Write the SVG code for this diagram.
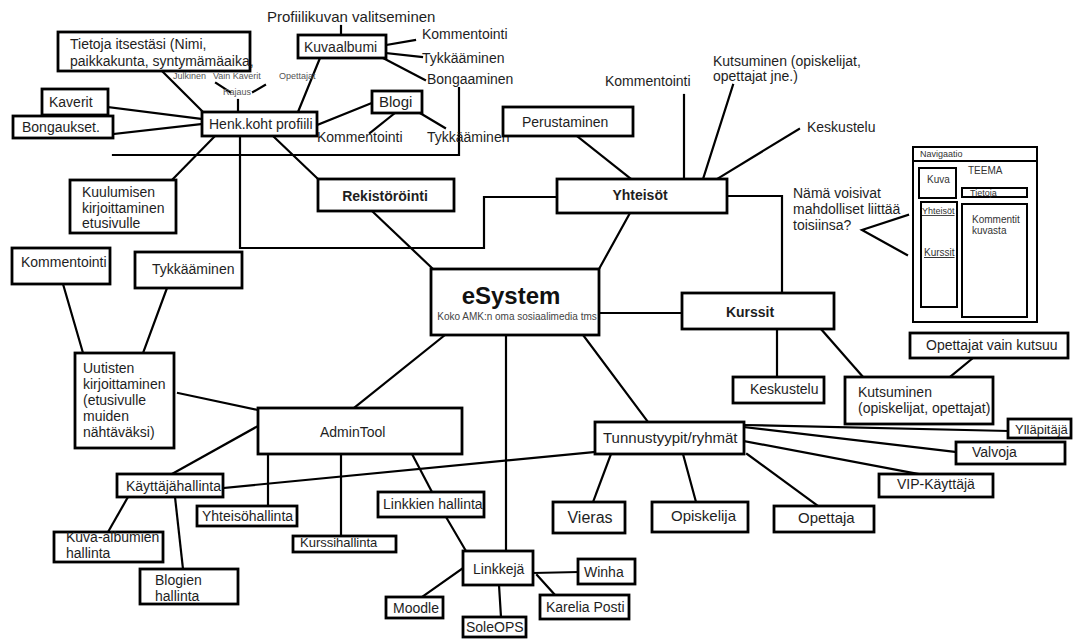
<svg xmlns="http://www.w3.org/2000/svg" width="1073" height="639" viewBox="0 0 1073 639">
  <style>
    text { font-family: "Liberation Sans", Arial, sans-serif; font-size: 14px; fill: #1e1e1e; }
    .box { fill: #fff; stroke: #000; stroke-width: 2.8; }
    .wf { fill: #fff; stroke: #000; stroke-width: 2; }
    .bd { font-weight: bold; }
    .mid { text-anchor: middle; }
    .sm { font-size: 9px; fill: #555; }
    .xs { font-size: 10px; fill: #333; }
    .big { font-size: 15px; }
    .u { text-decoration: underline; }
    #connectors line, #connectors polyline { stroke: #000; stroke-width: 2.2; fill: none; stroke-linecap: square; }
  </style>
  <rect width="1073" height="639" fill="#fff"/>

  <!-- connectors -->
  <g id="connectors">
    <line x1="162" y1="71" x2="202" y2="111"/>
    <line x1="108" y1="107" x2="202" y2="119"/>
    <line x1="113" y1="134" x2="202" y2="124"/>
    <line x1="215" y1="136" x2="172" y2="180"/>
    <line x1="216" y1="83" x2="230" y2="92"/>
    <line x1="265" y1="85" x2="253" y2="92"/>
    <line x1="238" y1="100" x2="238" y2="112"/>
    <line x1="298" y1="112" x2="320" y2="58"/>
    <line x1="341" y1="26" x2="341" y2="35"/>
    <line x1="386" y1="45" x2="415" y2="40"/>
    <line x1="386" y1="53" x2="422" y2="57"/>
    <line x1="383" y1="58" x2="425" y2="80"/>
    <polyline points="459,88 459,155 113,155"/>
    <line x1="317" y1="125" x2="372" y2="103"/>
    <line x1="395" y1="113" x2="370" y2="133"/>
    <line x1="420" y1="113" x2="445" y2="128"/>
    <line x1="273" y1="136" x2="318" y2="179"/>
    <line x1="372" y1="211" x2="433" y2="269"/>
    <polyline points="240,136 240,248 484,248 484,197 557,197"/>
    <line x1="577" y1="136" x2="631" y2="179"/>
    <line x1="684" y1="95" x2="684" y2="179"/>
    <line x1="733" y1="85" x2="703" y2="179"/>
    <line x1="799" y1="129" x2="717" y2="179"/>
    <polyline points="727,196 782,196 782,293"/>
    <polyline points="908,215 862,230 907,255"/>
    <line x1="630" y1="213" x2="599" y2="269"/>
    <line x1="599" y1="313" x2="682" y2="313"/>
    <line x1="777" y1="329" x2="777" y2="377"/>
    <line x1="821" y1="329" x2="863" y2="377"/>
    <line x1="973" y1="358" x2="950" y2="377"/>
    <line x1="583" y1="335" x2="648" y2="422"/>
    <line x1="744" y1="425" x2="1008" y2="431"/>
    <line x1="744" y1="427" x2="956" y2="452"/>
    <line x1="744" y1="441" x2="918" y2="474"/>
    <line x1="611" y1="454" x2="593" y2="502"/>
    <line x1="683" y1="454" x2="696" y2="502"/>
    <line x1="747" y1="454" x2="818" y2="506"/>
    <line x1="63" y1="284" x2="83" y2="353"/>
    <line x1="167" y1="288" x2="143" y2="353"/>
    <line x1="178" y1="393" x2="258" y2="410"/>
    <line x1="445" y1="335" x2="354" y2="408"/>
    <line x1="258" y1="426" x2="172" y2="474"/>
    <line x1="223" y1="488" x2="595" y2="452"/>
    <line x1="268" y1="454" x2="268" y2="506"/>
    <line x1="341" y1="454" x2="341" y2="536"/>
    <line x1="412" y1="454" x2="432" y2="492"/>
    <line x1="128" y1="497" x2="108" y2="532"/>
    <line x1="175" y1="497" x2="183" y2="569"/>
    <line x1="506" y1="335" x2="506" y2="551"/>
    <line x1="446" y1="517" x2="466" y2="551"/>
    <line x1="463" y1="568" x2="422" y2="597"/>
    <line x1="499" y1="585" x2="501" y2="617"/>
    <line x1="533" y1="573" x2="578" y2="572"/>
    <line x1="537" y1="575" x2="555" y2="595"/>
  </g>

  <!-- profile branch -->
  <g id="tietoja">
    <rect class="box" x="58" y="32" width="192" height="39"/>
    <text x="70" y="49">Tietoja itsestäsi (Nimi,</text>
    <text x="70" y="66">paikkakunta, syntymämäaika,</text>
  </g>
  <g id="rajaus">
    <text class="sm" x="173" y="79">Julkinen</text>
    <text class="sm" x="213" y="79">Vain Kaverit</text>
    <text class="sm" x="279" y="79">Opettajat</text>
    <text class="sm" x="223" y="95">Rajaus</text>
  </g>
  <g id="kaverit">
    <rect class="box" x="42" y="89" width="66" height="26"/>
    <text x="49" y="107">Kaverit</text>
  </g>
  <g id="bongaukset">
    <rect class="box" x="13" y="116" width="100" height="22"/>
    <text x="22" y="132">Bongaukset.</text>
  </g>
  <g id="henk-profiili">
    <rect class="box" x="202" y="112" width="115" height="24"/>
    <text x="209" y="129">Henk.koht profiili</text>
  </g>
  <g id="kuulumisen">
    <rect class="box" x="70" y="180" width="106" height="53"/>
    <text x="82" y="197">Kuulumisen</text>
    <text x="82" y="213">kirjoittaminen</text>
    <text x="82" y="228">etusivulle</text>
  </g>
  <g id="profiilikuva">
    <text class="big" x="267" y="22">Profiilikuvan valitseminen</text>
  </g>
  <g id="kuvaalbumi">
    <rect class="box" x="298" y="35" width="88" height="23"/>
    <text x="304" y="52">Kuvaalbumi</text>
  </g>
  <g id="kuvaalbumi-toiminnot">
    <text x="422" y="39">Kommentointi</text>
    <text x="422" y="63">Tykkääminen</text>
    <text x="427" y="84">Bongaaminen</text>
  </g>
  <g id="blogi">
    <rect class="box" x="372" y="91" width="50" height="22"/>
    <text class="big" x="379" y="107">Blogi</text>
  </g>
  <g id="blogi-toiminnot">
    <text x="317" y="142">Kommentointi</text>
    <text x="427" y="142">Tykkääminen</text>
  </g>
  <g id="rekisterointi">
    <rect class="box" x="318" y="179" width="136" height="32"/>
    <text class="bd mid" x="385" y="201">Rekistöröinti</text>
  </g>

  <!-- communities -->
  <g id="perustaminen">
    <rect class="box" x="503" y="107" width="130" height="29"/>
    <text x="522" y="127">Perustaminen</text>
  </g>
  <g id="yhteisot-toiminnot">
    <text x="605" y="86">Kommentointi</text>
    <text x="713" y="66">Kutsuminen (opiskelijat,</text>
    <text x="713" y="81">opettajat jne.)</text>
    <text x="807" y="132">Keskustelu</text>
  </g>
  <g id="yhteisot">
    <rect class="box" x="557" y="179" width="170" height="34"/>
    <text class="bd mid" x="640" y="200">Yhteisöt</text>
  </g>
  <g id="huomio">
    <text x="793" y="198">Nämä voisivat</text>
    <text x="793" y="214">mahdolliset liittää</text>
    <text x="793" y="230">toisiinsa?</text>
  </g>

  <!-- page layout sketch -->
  <g id="sivupohja">
    <rect class="wf" x="913" y="147" width="124" height="175"/>
    <line x1="913" y1="161" x2="1037" y2="161" stroke="#000" stroke-width="2"/>
    <text class="sm" x="920" y="157" style="fill:#333">Navigaatio</text>
    <text class="xs" x="968" y="174">TEEMA</text>
    <rect class="wf" x="919" y="168" width="37" height="30"/>
    <text class="xs" x="927" y="183">Kuva</text>
    <rect class="wf" x="962" y="188" width="65" height="9"/>
    <text class="sm" x="970" y="196" style="fill:#333">Tietoja</text>
    <rect class="wf" x="921" y="202" width="36" height="105"/>
    <text class="sm u" x="922" y="214" style="fill:#333">Yhteisöt</text>
    <text class="xs u" x="924" y="256">Kurssit</text>
    <rect class="wf" x="962" y="204" width="65" height="113"/>
    <text class="xs" x="972" y="223">Kommentit</text>
    <text class="xs" x="972" y="234">kuvasta</text>
  </g>

  <!-- core -->
  <g id="esystem">
    <rect class="box" x="431" y="269" width="168" height="66"/>
    <text class="bd mid" x="511" y="304" style="font-size:24px;fill:#111">eSystem</text>
    <text class="mid" x="517" y="320" style="font-size:10px;fill:#444">Koko AMK:n oma sosiaalimedia tms</text>
  </g>

  <!-- courses -->
  <g id="kurssit">
    <rect class="box" x="682" y="293" width="152" height="36"/>
    <text class="bd mid" x="750" y="317">Kurssit</text>
  </g>
  <g id="opettajat-vain">
    <rect class="box" x="910" y="333" width="158" height="25"/>
    <text x="926" y="350">Opettajat vain kutsuu</text>
  </g>
  <g id="kutsuminen">
    <rect class="box" x="845" y="377" width="148" height="47"/>
    <text x="858" y="397">Kutsuminen</text>
    <text x="858" y="413">(opiskelijat, opettajat)</text>
  </g>
  <g id="keskustelu">
    <rect class="box" x="733" y="377" width="91" height="26"/>
    <text x="750" y="394">Keskustelu</text>
  </g>

  <!-- account types -->
  <g id="tunnustyypit">
    <rect class="box" x="595" y="422" width="149" height="32"/>
    <text class="big" x="603" y="443">Tunnustyypit/ryhmät</text>
  </g>
  <g id="yllapitaja">
    <rect class="box" x="1008" y="419" width="63" height="19"/>
    <text x="1015" y="434" style="font-size:13px">Ylläpitäjä</text>
  </g>
  <g id="valvoja">
    <rect class="box" x="956" y="442" width="109" height="22"/>
    <text x="972" y="457">Valvoja</text>
  </g>
  <g id="vip">
    <rect class="box" x="879" y="474" width="114" height="23"/>
    <text x="897" y="489">VIP-Käyttäjä</text>
  </g>
  <g id="vieras">
    <rect class="box" x="553" y="502" width="72" height="31"/>
    <text class="mid" x="590" y="523" style="font-size:16px">Vieras</text>
  </g>
  <g id="opiskelija">
    <rect class="box" x="652" y="502" width="96" height="30"/>
    <text class="big" x="671" y="521">Opiskelija</text>
  </g>
  <g id="opettaja">
    <rect class="box" x="774" y="506" width="100" height="26"/>
    <text class="big" x="798" y="523">Opettaja</text>
  </g>

  <!-- news -->
  <g id="kommentointi-uutiset">
    <rect class="box" x="12" y="248" width="98" height="36"/>
    <text x="21" y="267">Kommentointi</text>
  </g>
  <g id="tykkaaminen-uutiset">
    <rect class="box" x="135" y="252" width="107" height="36"/>
    <text x="152" y="274">Tykkääminen</text>
  </g>
  <g id="uutisten">
    <rect class="box" x="75" y="353" width="99" height="95"/>
    <text x="83" y="373">Uutisten</text>
    <text x="83" y="389">kirjoittaminen</text>
    <text x="83" y="405">(etusivulle</text>
    <text x="83" y="421">muiden</text>
    <text x="83" y="437">nähtäväksi)</text>
  </g>

  <!-- administration -->
  <g id="admintool">
    <rect class="box" x="258" y="408" width="204" height="46"/>
    <text x="320" y="437">AdminTool</text>
  </g>
  <g id="kayttajahallinta">
    <rect class="box" x="117" y="474" width="106" height="23"/>
    <text x="126" y="491">Käyttäjähallinta</text>
  </g>
  <g id="yhteisohallinta">
    <rect class="box" x="197" y="506" width="100" height="20"/>
    <text x="202" y="521">Yhteisöhallinta</text>
  </g>
  <g id="kurssihallinta">
    <rect class="box" x="293" y="536" width="103" height="16"/>
    <text x="300" y="547" style="font-size:13px">Kurssihallinta</text>
  </g>
  <g id="kuva-albumien">
    <rect class="box" x="54" y="532" width="109" height="30"/>
    <text x="66" y="542">Kuva-albumien</text>
    <text x="66" y="558">hallinta</text>
  </g>
  <g id="blogien">
    <rect class="box" x="140" y="569" width="98" height="35"/>
    <text x="155" y="585">Blogien</text>
    <text x="155" y="601">hallinta</text>
  </g>

  <!-- links -->
  <g id="linkkien-hallinta">
    <rect class="box" x="378" y="492" width="106" height="25"/>
    <text x="383" y="509">Linkkien hallinta</text>
  </g>
  <g id="linkkeja">
    <rect class="box" x="463" y="551" width="70" height="34"/>
    <text x="473" y="574">Linkkejä</text>
  </g>
  <g id="moodle">
    <rect class="box" x="386" y="597" width="57" height="21"/>
    <text x="393" y="613">Moodle</text>
  </g>
  <g id="soleops">
    <rect class="box" x="463" y="617" width="63" height="20"/>
    <text x="466" y="632">SoleOPS</text>
  </g>
  <g id="winha">
    <rect class="box" x="578" y="559" width="57" height="25"/>
    <text x="584" y="577">Winha</text>
  </g>
  <g id="karelia-posti">
    <rect class="box" x="540" y="595" width="89" height="24"/>
    <text x="546" y="612">Karelia Posti</text>
  </g>
</svg>
